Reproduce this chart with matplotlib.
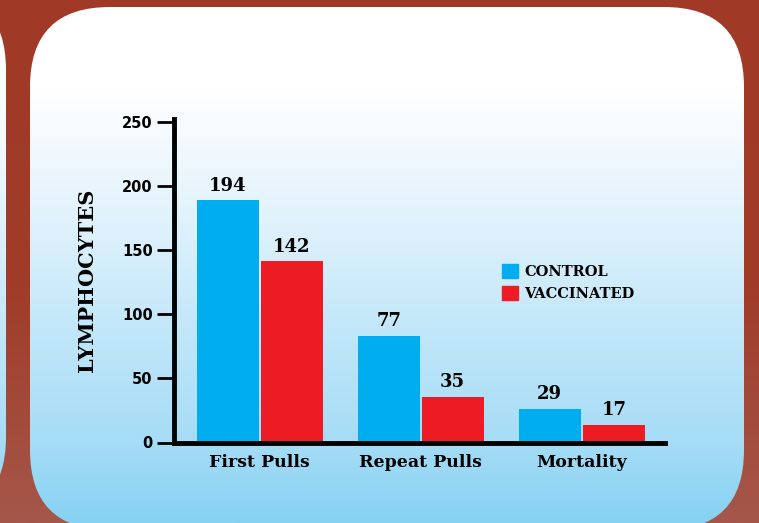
import numpy as np
import matplotlib
matplotlib.use('Agg')
from matplotlib import pyplot as plt
from matplotlib.patches import FancyBboxPatch, Patch
from matplotlib.colors import LinearSegmentedColormap

# data
categories = ['First Pulls', 'Repeat Pulls', 'Mortality']
series = ['CONTROL', 'VACCINATED']
# bar heights as drawn (the printed labels do not quite match the bars)
control_bars = [189, 83.5, 26.5]
vaccinated_bars = [141.5, 35.5, 14]
control_labels = ['194', '77', '29']
vaccinated_labels = ['142', '35', '17']
yticks = [0, 50, 100, 150, 200, 250]

W, H = 759, 523
fig = plt.figure(figsize=(W/100, H/100), dpi=100)

# background in pixel coordinates
bg = fig.add_axes([0, 0, 1, 1])
bg.set_xlim(0, W)
bg.set_ylim(H, 0)
bg.axis('off')

red = LinearSegmentedColormap.from_list('red', [(0, '#a03a26'), (0.55, '#a03c29'), (1, '#a5574a')])
grad = np.linspace(0, 1, 256).reshape(-1, 1)
bg.imshow(grad, cmap=red, extent=(0, W, H, 0), aspect='auto', zorder=0)

sky = LinearSegmentedColormap.from_list('sky', [(0, '#ffffff'), (0.17, '#ffffff'),
                                                 (0.4, '#e3f3fc'), (0.65, '#bfe6f9'),
                                                 (0.85, '#a5dcf6'), (1, '#86d2f3')])
for x0, y0, x1, y1 in [(30, 7, 744, 530), (-800, -10, 6, 517)]:
    p = FancyBboxPatch((x0, y0), x1 - x0, y1 - y0, boxstyle='round,pad=0,rounding_size=80',
                       facecolor='none', edgecolor='none', zorder=1)
    bg.add_patch(p)
    im = bg.imshow(grad, cmap=sky, extent=(-800, W, H, 0), aspect='auto', zorder=1)
    im.set_clip_path(p)

# chart
ax = fig.add_axes([173.5/W, 1 - 442.5/H, (665 - 173.5)/W, (442.5 - 119)/H])
ax.patch.set_alpha(0)
x = np.arange(len(categories))
w = 0.385
off = 0.199
b1 = ax.bar(x - off, control_bars, w, color='#00aeef', label=series[0], zorder=2)
b2 = ax.bar(x + off, vaccinated_bars, w, color='#ed1c24', label=series[1], zorder=2)
for bars, labs in [(b1, control_labels), (b2, vaccinated_labels)]:
    for r, t in zip(bars, labs):
        ax.annotate(t, (r.get_x() + r.get_width()/2, r.get_height()), xytext=(0, 4),
                    textcoords='offset points', ha='center', va='bottom',
                    family='DejaVu Serif', fontweight='heavy', fontsize=13)

ax.set_xlim(-0.535, 2.517)
ax.set_ylim(0, 252.5)
ax.set_yticks(yticks)
ax.set_yticklabels([str(v) for v in yticks], family='DejaVu Sans', fontweight='bold', fontsize=10.5)
ax.set_xticks(x)
ax.set_xticklabels(categories, family='DejaVu Serif', fontweight='bold', fontsize=12.5)
ax.tick_params(axis='y', length=12, width=2, pad=3)
ax.tick_params(axis='x', length=0, pad=8)
for s in ['top', 'right']:
    ax.spines[s].set_visible(False)
for s in ['left', 'bottom']:
    ax.spines[s].set_linewidth(3.5)
ax.set_ylabel('LYMPHOCYTES', family='DejaVu Serif', fontweight='bold', fontsize=15, labelpad=18)

ax.legend(handles=[Patch(color='#00aeef'), Patch(color='#ed1c24')], labels=series,
          loc='upper left', bbox_to_anchor=(495/W, 1 - 257/H), bbox_transform=fig.transFigure,
          frameon=False, borderpad=0, handlelength=1.05, handleheight=1.05, handletextpad=0.45,
          labelspacing=0.5, prop={'family': 'DejaVu Serif', 'weight': 'bold', 'size': 10.5})

plt.savefig('out.png', dpi=100)
